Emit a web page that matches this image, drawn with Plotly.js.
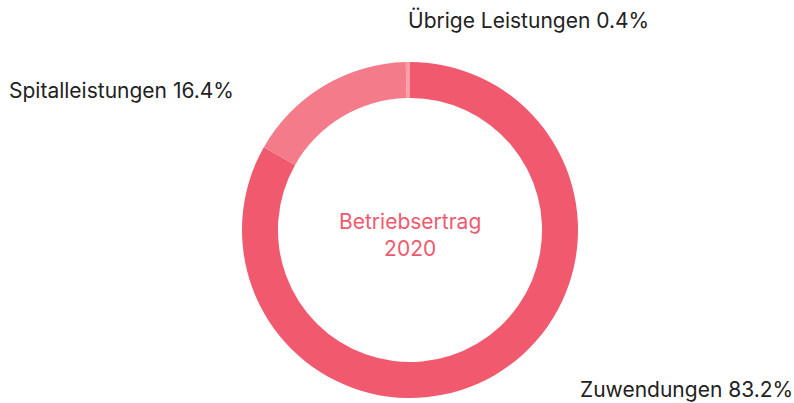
<!DOCTYPE html>
<html><head><meta charset="utf-8">
<script src="https://cdn.plot.ly/plotly-3.0.1.min.js"></script>
<style>html,body{margin:0;padding:0;background:#fff;}#chart{width:794px;height:403px;}</style>
</head><body><div id="chart"></div>
<script>
const categories = ["Zuwendungen", "Spitalleistungen", "Übrige Leistungen"];
const shares = [83.2, 16.4, 0.4];
const colors = ["#F0596E", "#F47C8A", "#F79DA8"];
const centerTitle = "Betriebsertrag<br>2020";

const labelPos = [
  {x: 578/794, y: 1 - 389/403, xanchor: "left"},
  {x: 7/794, y: 1 - 90/403, xanchor: "left"},
  {x: 406/794, y: 1 - 20/403, xanchor: "left"}
];

const annotations = categories.map((c, i) => ({
  text: c + " " + shares[i].toFixed(1) + "%",
  x: labelPos[i].x, y: labelPos[i].y, xref: "paper", yref: "paper",
  xanchor: labelPos[i].xanchor, yanchor: "middle", showarrow: false,
  font: {family: "Inter, sans-serif", size: 21, color: "#222"}
}));
annotations.push({
  text: centerTitle, x: 410/794, y: 1 - 235/403, xref: "paper", yref: "paper",
  xanchor: "center", yanchor: "middle", showarrow: false,
  font: {family: "Inter, sans-serif", size: 21, color: "#F0596E"}
});

Plotly.newPlot("chart", [{
  type: "pie",
  labels: categories,
  values: shares,
  hole: 0.786,
  sort: false,
  direction: "clockwise",
  rotation: 0,
  marker: {colors: colors, line: {width: 0}},
  textinfo: "none",
  hoverinfo: "label+percent",
  domain: {x: [242/794, 578/794], y: [5/403, 341/403]}
}], {
  width: 794, height: 403,
  margin: {l: 0, r: 0, t: 0, b: 0},
  showlegend: false,
  paper_bgcolor: "#fff",
  annotations: annotations
}, {displayModeBar: false});
</script></body></html>
